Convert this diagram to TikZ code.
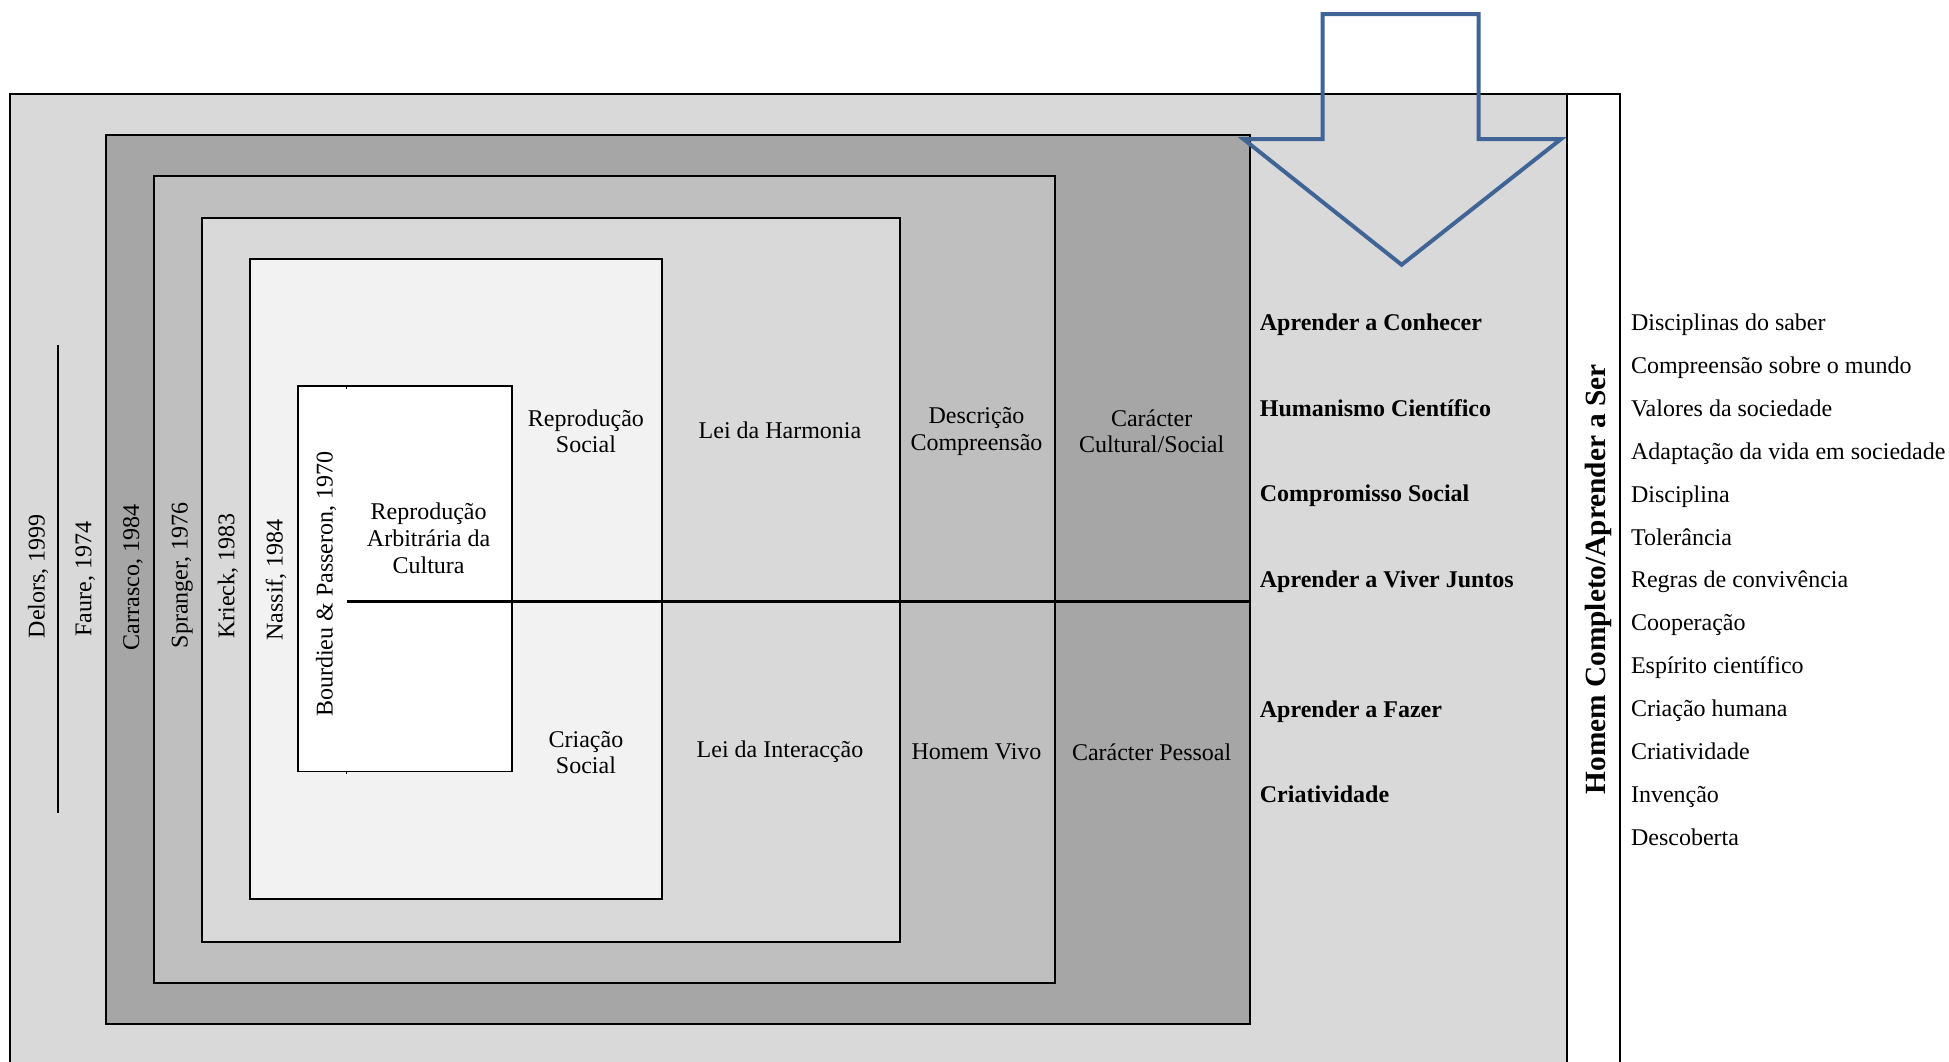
\documentclass[tikz,border=0pt]{standalone}
\usepackage{fontspec}
\setmainfont{Liberation Serif}
\definecolor{gOut}{HTML}{D9D9D9}
\definecolor{gDark}{HTML}{A6A6A6}
\definecolor{gMid}{HTML}{BFBFBF}
\definecolor{gLight}{HTML}{D9D9D9}
\definecolor{gPale}{HTML}{F2F2F2}
\definecolor{arrowblue}{RGB}{64,100,150}
\begin{document}
\begin{tikzpicture}[x=1pt,y=-1pt,
  box/.style={draw=black,line width=1.6pt},
  txt/.style={font=\fontsize{19.3}{21.5}\selectfont,inner sep=0pt,align=center,anchor=center},
  boldlab/.style={font=\fontsize{19.3}{21.5}\selectfont\bfseries,inner sep=0pt,anchor=base west},
  itemlab/.style={font=\fontsize{19.3}{21.5}\selectfont,inner sep=0pt,anchor=base west},
  vlab/.style={font=\fontsize{19.3}{21.5}\selectfont,inner sep=0pt,rotate=90,anchor=base},
  sep/.style={draw=black,line width=2.4pt}]
\useasboundingbox (0,0) rectangle (1568,854);
\clip (0,0) rectangle (1568,854);

% outer frame
\fill[gOut] (7.9,75.6) rectangle (1260.7,900);
\draw[box] (7.9,900) -- (7.9,75.6) -- (1303.6,75.6) -- (1303.6,900);
\draw[box] (1260.7,75.6) -- (1260.7,900);
\draw[black,line width=1.2pt] (46.7,277.6) -- (46.7,654);

% nested boxes
\draw[box,fill=gDark] (85.1,108.6) rectangle (1005.8,823.5);
\draw[box,fill=gMid] (123.9,141.6) rectangle (849,790.8);
\draw[box,fill=gLight] (162.6,175.6) rectangle (724,757.8);
\draw[box,fill=gPale] (201,208.4) rectangle (532.3,723.4);
\draw[draw=black,line width=1.3pt,fill=white] (239.6,310.5) rectangle (412,620.8);
\draw[black,line width=1.1pt] (279,310.5) -- (279,313) (279,620.8) -- (279,623);

% middle separator
\coordinate (sepL) at (279,484);
\coordinate (sepR) at (1005.8,484);
\draw[sep] (sepL) -- (sepR);

% blue arrow
\draw[arrowblue,line width=3.2pt,line join=miter]
  (1064,11.3) -- (1189.6,11.3) -- (1189.6,112) -- (1255.7,112)
  -- (1127.6,213) -- (1000.5,112) -- (1064,112) -- cycle;

% rotated labels
\node[vlab] (delors) at (36,463.5) {Delors, 1999};
\node[vlab] (faure) at (73.6,466) {Faure, 1974};
\node[vlab] (carrasco) at (112,464.6) {Carrasco, 1984};
\node[vlab] (spranger) at (151,463) {Spranger, 1976};
\node[vlab] (krieck) at (188.6,463.5) {Krieck, 1983};
\node[vlab] (nassif) at (227.3,466.5) {Nassif, 1984};
\node[vlab] (bourdieu) at (267.6,470) {Bourdieu \& Passeron, 1970};

% central texts
\node[txt] (rac) at (344.8,433) {Reprodução\\Arbitrária da\\Cultura};
\node[txt] (repsoc) at (471.4,347) {Reprodução\\Social};
\node[txt] (criasoc) at (471.4,605.5) {Criação\\Social};
\node[txt] (harmonia) at (627.5,346) {Lei da Harmonia};
\node[txt] (interaccao) at (627.5,605) {Lei da Interacção};
\node[txt] (descricao) at (785.6,347) {Descrição\\Compreensão};
\node[txt] (homemvivo) at (785.6,605) {Homem Vivo};
\node[txt] (caracter) at (926.5,347) {Carácter\\Cultural/Social};
\node[txt] (pessoal) at (926.5,605) {Carácter Pessoal};

% bold pillars
\node[boldlab] (b1) at (1013.4,266) {Aprender a Conhecer};
\node[boldlab] (b2) at (1013.4,335) {Humanismo Científico};
\node[boldlab] (b3) at (1013.4,403.5) {Compromisso Social};
\node[boldlab] (b4) at (1013.4,473) {Aprender a Viver Juntos};
\node[boldlab] (b5) at (1013.4,577) {Aprender a Fazer};
\node[boldlab] (b6) at (1013.4,646) {Criatividade};

% right column title
\node[font=\fontsize{23.6}{26}\selectfont\bfseries,inner sep=0pt,rotate=90,anchor=base] (homem) at (1292,466) {Homem Completo/Aprender a Ser};

% right list
\node[itemlab] (i1) at (1312,266) {Disciplinas do saber};
\node[itemlab] (i2) at (1312,300.5) {Compreensão sobre o mundo};
\node[itemlab] (i3) at (1312,335) {Valores da sociedade};
\node[itemlab] (i4) at (1312,369.5) {Adaptação da vida em sociedade};
\node[itemlab] (i5) at (1312,404) {Disciplina};
\node[itemlab] (i6) at (1312,438.5) {Tolerância};
\node[itemlab] (i7) at (1312,473) {Regras de convivência};
\node[itemlab] (i8) at (1312,507.5) {Cooperação};
\node[itemlab] (i9) at (1312,542) {Espírito científico};
\node[itemlab] (i10) at (1312,576.5) {Criação humana};
\node[itemlab] (i11) at (1312,611) {Criatividade};
\node[itemlab] (i12) at (1312,645.5) {Invenção};
\node[itemlab] (i13) at (1312,680) {Descoberta};
\end{tikzpicture}
\end{document}
